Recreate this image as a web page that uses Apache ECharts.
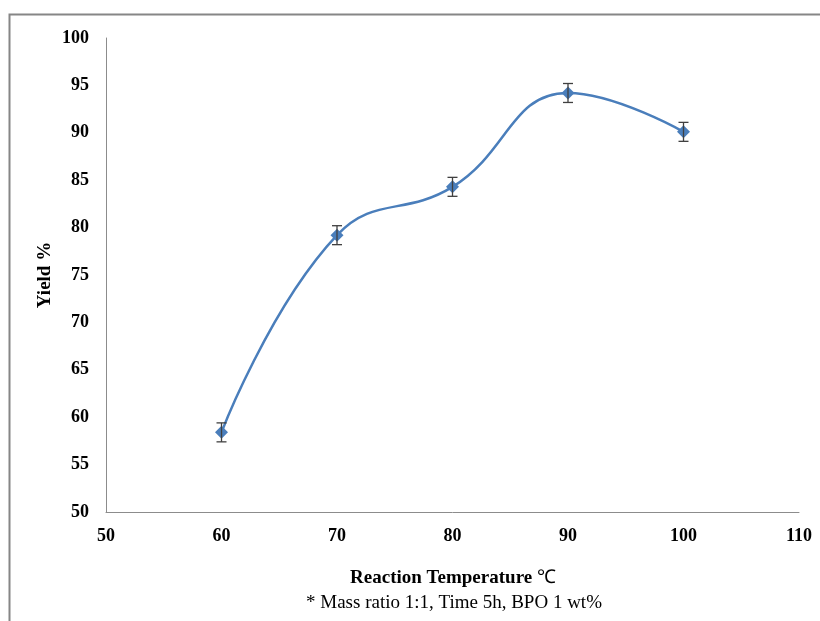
<!DOCTYPE html>
<html><head><meta charset="utf-8">
<script src="https://cdn.jsdelivr.net/npm/echarts@6/dist/echarts.min.js"></script>
<style>html,body{margin:0;padding:0;background:#fff}#c{width:820px;height:621px}</style>
</head><body><div id="c"></div>
<script>
const temps = [60, 70, 80, 90, 100];
const yields = [58.4, 79.2, 84.3, 94.2, 90.1];
const errors = [1.0, 1.0, 1.0, 1.0, 1.0];
const xTitle = 'Reaction Temperature';
const xUnit = '℃';
const note = '* Mass ratio 1:1, Time 5h, BPO 1 wt%';
const yTitle = 'Yield %';

const chart = echarts.init(document.getElementById('c'));
const font = 'Liberation Serif';
const lineData = temps.map((t, i) => [t, yields[i]]);
const errData = temps.map((t, i) => [t, yields[i] - errors[i], yields[i] + errors[i]]);
chart.setOption({
  animation: false,
  grid: {left: 106, right: 21, top: 38, bottom: 109},
  xAxis: {
    type: 'value', min: 50, max: 110, interval: 10,
    axisLine: {lineStyle: {color: '#8c8c8c', width: 1}},
    axisTick: {show: false}, splitLine: {show: false},
    axisLabel: {fontFamily: font, fontWeight: 'bold', fontSize: 18, color: '#000', margin: 15}
  },
  yAxis: {
    type: 'value', min: 50, max: 100, interval: 5,
    axisLine: {show: true, lineStyle: {color: '#8c8c8c', width: 1}},
    axisTick: {show: false}, splitLine: {show: false},
    axisLabel: {fontFamily: font, fontWeight: 'bold', fontSize: 18, color: '#000', margin: 17}
  },
  graphic: [
    {type: 'rect', shape: {x: 9.5, y: 14.5, width: 900, height: 700}, style: {fill: 'none', stroke: '#868686', lineWidth: 2}, silent: true},
    {type: 'text', position: [453, 578], style: {
      text: '{b|' + xTitle + ' }{n|' + xUnit + '}', textAlign: 'center', textVerticalAlign: 'middle',
      rich: {b: {font: 'bold 19px "Liberation Serif"', fill: '#000'}, n: {font: '19px "Liberation Serif"', fill: '#000'}}
    }},
    {type: 'text', position: [454, 603], style: {text: note, font: '19px "Liberation Serif"', fill: '#000', textAlign: 'center', textVerticalAlign: 'middle'}},
    {type: 'text', position: [45, 275], rotation: Math.PI / 2, style: {text: yTitle, font: 'bold 19px "Liberation Serif"', fill: '#000', textAlign: 'center', textVerticalAlign: 'middle'}}
  ],
  series: [
    {
      type: 'line', data: lineData, smooth: 0.45,
      symbol: 'diamond', symbolSize: 13,
      lineStyle: {color: '#4a7ebb', width: 2.5},
      itemStyle: {color: '#4a7ebb'},
      z: 3
    },
    {
      type: 'custom', data: errData, z: 4,
      renderItem: function (params, api) {
        const lo = api.coord([api.value(0), api.value(1)]);
        const hi = api.coord([api.value(0), api.value(2)]);
        const w = 5;
        const st = {stroke: '#404040', lineWidth: 1.3};
        return {type: 'group', children: [
          {type: 'line', shape: {x1: lo[0], y1: lo[1], x2: hi[0], y2: hi[1]}, style: st},
          {type: 'line', shape: {x1: lo[0] - w, y1: lo[1], x2: lo[0] + w, y2: lo[1]}, style: st},
          {type: 'line', shape: {x1: hi[0] - w, y1: hi[1], x2: hi[0] + w, y2: hi[1]}, style: st}
        ]};
      }
    }
  ]
});
</script></body></html>
